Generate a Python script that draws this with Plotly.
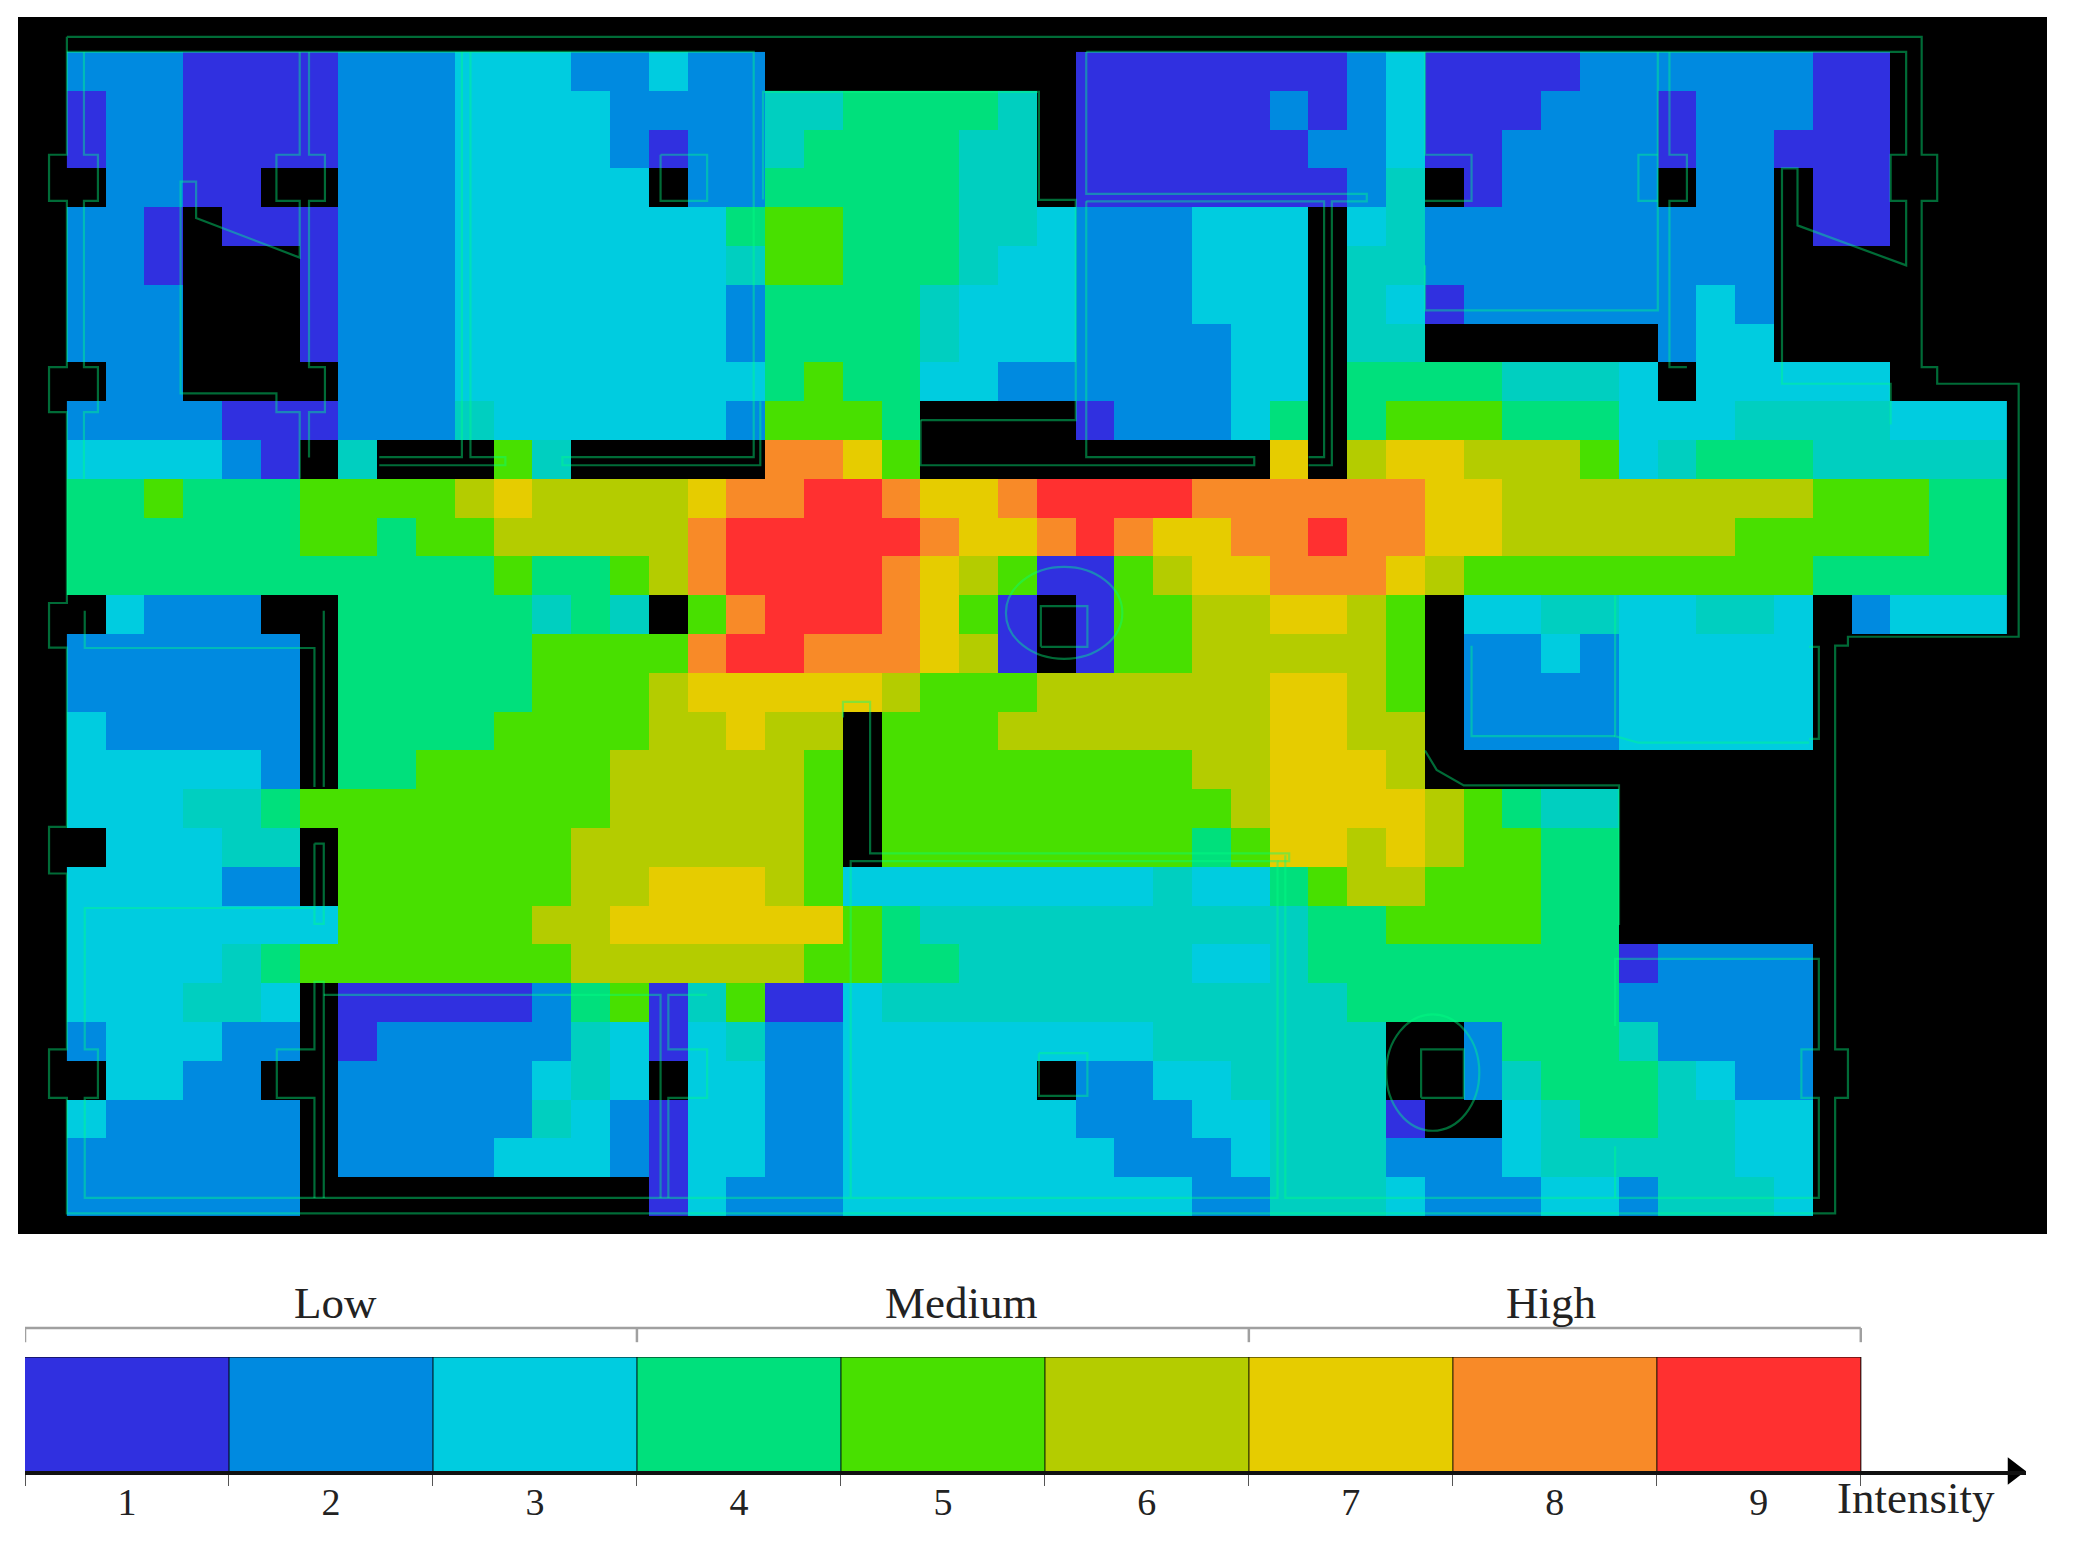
import plotly.graph_objects as go

# intensity per floor cell, one string per row, 0 = wall / no reading, T = the teal step between 3 and 4
FLOOR_ROWS = [
    "222 1111 222 333 22 3 22 00000000 1111111 2 3 1111 222222 11 000",
    "1 22 1111 222 3333 2222 TT 4444 T 0 11111 2 1 2 3 111 222 1 222 11 000",
    "1 22 1111 222 3333 2 1 22 T 4444 TT 0 111111 22 3 11 2222 1 22 111 000",
    "0 22 11 00 222 33333 0 22 44444 TT 0 1111111 2 T 0 1 2222 0 22 0 11 000",
    "22 1 0 111 222 333333 3 4 55 444 TT 3 222 333 0 3 T 222222222 0 11 000",
    "22 1 000 1 222 333333 3 T 55 444 T 33 222 333 0 T T 222222222 000000",
    "222 000 1 222 333333 3 2 4444 T 333 222 333 0 T 3 1 222222 3 2 000000",
    "222 000 1 222 333333 3 2 4444 T 333 2222 33 0 T T 000000 2 33 000000",
    "0 22 0000 222 333333 3 3 4 5 44 33 22 2222 33 0 4 444 TTT 3 0 33333 000",
    "2222 111 222 T 33333 3 2 555 4 0000 1 222 3 4 0 4 555 444 333 TTTT 333",
    "3333 2 1 0 T 000 5 T 00000 88 7 5 000000000 7 0 6 77 666 5 3 T 444 TTTTT",
    "44 5 444 5555 6 7 6666 7 88 99 8 77 8 9999 888888 77 66666666 555 44",
    "444444 55 4 55 66666 8 99999 8 77 8 9 8 77 88 9 88 77 666666 55555 44",
    "44444444444 5 44 5 6 8 9999 8 7 6 5 11 5 6 77 888 7 6 555555555 44444",
    "0 3 222 00 44444 T 4 T 0 5 8 999 8 7 5 1 0 1 55 66 77 6 5 0 33 TT 33 TT 3 0 2 333",
    "222222 0 44444 5555 8 99 888 7 6 1 0 1 55 66666 5 0 22 3 2 33333 00000",
    "222222 0 44444 555 6 77777 6 555 666666 77 6 5 0 2222 33333 00000",
    "3 22222 0 4444 5555 66 7 66 0 555 6666666 77 66 0 2222 33333 00000",
    "33333 2 0 44 55555 66666 5 0 55555555 66 777 6 000000000000000",
    "333 TT 4 55555555 66666 5 0 555555555 6 7777 6 5 4 TT 0000000000",
    "0 333 TT 0 555555 666666 5 0 55555555 4 5 77 6 7 6 55 44 0000000000",
    "3333 22 0 555555 66 777 6 5 33333333 T 33 4 5 6 6 555 44 0000000000",
    "3333333 55555 66 777777 5 4 TTTTTTTTTT 44 5555 44 0000000000",
    "3333 T 4 5555555 666666 55 44 TTTTTT 33 T 44 444444 1 2222 00000",
    "333 TT 3 0 11111 2 4 5 1 T 5 11 3 TTTTTTTTTTTT 4 444444 22222 00000",
    "2 333 22 0 1 22222 T 3 1 3 T 22 33333333 TTTTTT 00 2 444 T 2222 00000",
    "0 33 22 00 22222 3 T 3 0 33 22 33333 0 22 33 TTTT 00 2 T 444 T 3 22 00000",
    "3 22222 0 22222 T 3 2 1 33 22 333333 222 33 TTT 1 00 3 T 44 TT 33 00000",
    "222222 0 2222 333 2 1 33 22 3333333 222 3 TTT 222 3 TTTTT 33 00000",
    "222222 000000000 1 3 222 333333333 22 TTT 3 222 33 2 TTT 3 00000",
]

LEVELS = [1, 2, 3, 3.5, 4, 5, 6, 7, 8, 9]
LEVEL_COLORS = ["#3030e0", "#008ae0", "#00cce0", "#00cfc0", "#00e07c",
                "#48e000", "#b4cc00", "#e6cc00", "#f88a28", "#ff3030"]

LEGEND_VALUES = [1, 2, 3, 4, 5, 6, 7, 8, 9]
LEGEND_GROUPS = ["Low", "Medium", "High"]

# floor plan outline, in grid cells
PLAN_LINES = [
    [(0, -0.39), (47.8, -0.39), (47.8, 2.65), (48.2, 2.65), (48.2, 3.84), (47.8, 3.84), (47.8, 8.12), (48.2, 8.12),
     (48.2, 8.55), (50.3, 8.55), (50.3, 15.07), (45.9, 15.07), (45.9, 15.3), (45.57, 15.3), (45.57, 25.7), (45.9, 25.7),
     (45.9, 26.95), (45.57, 26.95), (45.57, 29.93), (0, 29.93), (0, 26.95), (-0.46, 26.95), (-0.46, 25.7), (0, 25.7),
     (0, 21.17), (-0.46, 21.17), (-0.46, 19.97), (0, 19.97), (0, 15.35), (-0.46, 15.35), (-0.46, 14.2), (0, 14.2),
     (0, 9.28), (-0.46, 9.28), (-0.46, 8.12), (0, 8.12), (0, 3.84), (-0.46, 3.84), (-0.46, 2.65), (0, 2.65), (0, -0.39)],
    [(0, 0), (17.7, 0), (17.7, 10.44), (12.77, 10.44), (12.77, 10.65), (17.87, 10.65), (17.87, 9)],
    [(0.44, 0), (0.44, 2.65), (0.8, 2.65), (0.8, 3.84), (0.44, 3.84), (0.44, 8.12), (0.8, 8.12), (0.8, 9.28), (0.44, 9.28), (0.44, 11)],
    [(6, 0), (6, 2.65), (5.4, 2.65), (5.4, 3.84), (6, 3.84), (6, 5.3), (3.33, 4.28), (3.33, 3.34), (2.93, 3.34),
     (2.93, 8.8), (5.4, 8.8), (5.4, 9.28), (6, 9.28), (6, 11)],
    [(6.24, 0), (6.24, 2.65), (6.65, 2.65), (6.65, 3.84), (6.24, 3.84), (6.24, 8.12), (6.65, 8.12), (6.65, 9.28), (6.24, 9.28), (6.24, 10.45)],
    [(8.05, 10.44), (10.18, 10.44), (10.18, 0)],
    [(10.4, 0), (10.4, 10.44), (11.3, 10.44), (11.3, 10.65), (8.05, 10.65)],
    [(15.3, 2.65), (16.5, 2.65), (16.5, 3.84), (15.3, 3.84), (15.3, 2.65)],
    [(17.94, 3.8), (17.94, 1.03), (25.05, 1.03), (25.05, 3.81), (26, 3.81), (26, 9.49), (22, 9.49)],
    [(26.27, 0), (26.27, 3.66), (33.5, 3.66), (33.5, 3.85), (32.6, 3.85), (32.6, 10.65), (32, 10.65)],
    [(26.27, 3.85), (32.4, 3.85), (32.4, 10.44), (32, 10.44)],
    [(26.27, 3.85), (26.27, 10.44), (30.6, 10.44), (30.6, 10.65), (22, 10.65), (22, 9.49)],
    [(26.27, 0), (47.4, 0), (47.4, 2.65), (47, 2.65), (47, 3.84), (47.4, 3.84), (47.4, 5.5), (44.6, 4.47), (44.6, 3),
     (44.2, 3), (44.2, 8.55), (47, 8.55), (47, 9.6)],
    [(35, 0), (35, 2.65), (36.2, 2.65), (36.2, 3.84), (35, 3.84)],
    [(35, 5.5), (35, 6.66), (41, 6.66), (41, 0)],
    [(41, 2.65), (40.5, 2.65), (40.5, 3.84), (41, 3.84)],
    [(41.3, 0), (41.3, 2.65), (41.75, 2.65), (41.75, 3.84), (41.3, 3.84), (41.3, 8.12), (41.75, 8.12)],
    [(0.46, 14.4), (0.46, 15.36), (6.38, 15.36), (6.38, 18.94)],
    [(6.62, 14.4), (6.62, 18.94)],
    [(6.38, 20.4), (6.38, 22.47), (6.62, 22.47), (6.62, 20.4), (6.38, 20.4)],
    [(6.38, 22.06), (0.46, 22.06), (0.46, 25.7), (0.8, 25.7), (0.8, 26.95), (0.46, 26.95), (0.46, 29.53),
     (31.2, 29.53), (31.2, 20.85), (20.2, 20.85), (20.2, 29.53)],
    [(6.38, 29.53), (6.38, 26.95), (5.41, 26.95), (5.41, 25.7), (6.38, 25.7), (6.38, 23.96), (6.62, 23.96), (6.62, 29.53)],
    [(6.62, 24.3), (15.3, 24.3), (15.3, 29.53)],
    [(15.5, 29.53), (15.5, 26.95), (16.5, 26.95), (16.5, 25.7), (15.5, 25.7), (15.5, 24.3), (16.5, 24.3)],
    [(25.05, 25.8), (26.3, 25.8), (26.3, 26.9), (25.05, 26.9), (25.05, 25.8)],
    [(25.1, 15.33), (25.1, 14.28), (26.3, 14.28), (26.3, 15.33), (25.1, 15.33)],
    [(34.9, 26.95), (34.9, 25.7), (36, 25.7), (36, 26.95), (34.9, 26.95)],
    [(36.2, 15.3), (36.2, 17.63), (39.9, 17.63)],
    [(39.9, 14), (39.9, 17.63), (40.5, 17.8), (44.9, 17.8)],
    [(44.9, 15.33), (45.15, 15.33), (45.15, 17.7), (44.9, 17.7)],
    [(31.4, 20.7), (31.4, 29.53), (45.15, 29.53), (45.15, 26.95), (44.7, 26.95), (44.7, 25.7), (45.15, 25.7), (45.15, 23.37), (39.9, 23.37), (39.9, 25.1)],
    [(39.9, 28.2), (39.9, 29.53)],
    [(20, 17.15), (20, 16.75), (20.7, 16.75), (20.7, 20.65), (31.5, 20.65), (31.5, 20.85), (31.2, 20.85)],
    [(35, 18), (35.3, 18.5), (36, 18.9), (40, 18.9), (40, 22.5)],
]
# stair wells (x0, x1, y0, y1)
PLAN_CIRCLES = [(24.2, 27.2, 13.27, 15.64), (34.0, 36.4, 24.8, 27.8)]

PLAN_COLOR = "rgba(0,255,130,0.42)"
SERIF = "Liberation Serif"
W, H = 2075, 1546
PAGE_MARGIN = 8  # the browser's body margin pushes the plot right and down


def xfrac(p):
    return (p - PAGE_MARGIN) / W


def yfrac(p):
    return 1 - (p - PAGE_MARGIN) / H


def step_scale():
    # hard colour steps, value range 1 to 9
    bounds = [1] + [(a + b) / 2 for a, b in zip(LEVELS, LEVELS[1:])] + [9]
    scale = []
    for i, c in enumerate(LEVEL_COLORS):
        scale.append([(bounds[i] - 1) / 8, c])
        scale.append([(bounds[i + 1] - 1) / 8, c])
    return scale


def cell_value(c):
    if c == "0":
        return None
    if c == "T":
        return 3.5
    return int(c)


z = []
for row in FLOOR_ROWS:
    cells = row.replace(" ", "")
    assert len(cells) == 50
    z.append([cell_value(c) for c in cells])

fig = go.Figure()

# black floor background sits under the heatmap, walls are just gaps in z
fig.add_shape(type="rect", xref="x domain", yref="y domain", x0=0, x1=1, y0=0, y1=1,
              fillcolor="black", line_width=0, layer="below")

fig.add_trace(go.Heatmap(z=z, x0=0.5, dx=1, y0=0.5, dy=1, colorscale=step_scale(), zmin=1, zmax=9,
                         showscale=False, hoverongaps=False))
px, py = [], []
for line in PLAN_LINES:
    px += [p[0] for p in line] + [None]
    py += [p[1] for p in line] + [None]
fig.add_trace(go.Scatter(x=px, y=py, mode="lines", line=dict(color=PLAN_COLOR, width=2.2), hoverinfo="skip"))
for x0, x1, y0, y1 in PLAN_CIRCLES:
    fig.add_shape(type="circle", x0=x0, x1=x1, y0=y0, y1=y1, xref="x", yref="y",
                  line=dict(color=PLAN_COLOR, width=2.2))

# intensity legend: bar on x2/y3, bracket and words on x2/y2
fig.add_trace(go.Heatmap(z=[LEGEND_VALUES], x0=0.5, dx=1, y0=0.5, dy=1, colorscale=step_scale(), zmin=1, zmax=9,
                         showscale=False, xaxis="x2", yaxis="y3"))
sx, sy = [0, 9, None], [1, 1, None]
for i in range(1, 10):
    sx += [i, i, None]
    sy += [0, 1, None]
fig.add_trace(go.Scatter(x=sx, y=sy, mode="lines", line=dict(color="rgba(0,0,0,0.65)", width=1.5),
                         xaxis="x2", yaxis="y3", hoverinfo="skip", cliponaxis=False))
fig.add_trace(go.Scatter(x=[9.75], y=[0], mode="markers", xaxis="x2", yaxis="y3", cliponaxis=False, hoverinfo="skip",
                         marker=dict(symbol="triangle-right", size=24, color="black")))
bx, by = [0, 9, None], [1.254, 1.254, None]
for i in range(0, 10, 3):
    bx += [i, i, None]
    by += [1.254, 1.13, None]
fig.add_trace(go.Scatter(x=bx, y=by, mode="lines", line=dict(color="#a0a0a0", width=2.5),
                         xaxis="x2", yaxis="y2", hoverinfo="skip"))
for name, pos in zip(LEGEND_GROUPS, [1.52, 4.59, 7.48]):
    fig.add_annotation(x=pos, y=1.24, xref="x2", yref="y2", text=name, showarrow=False, yanchor="bottom",
                       font=dict(family=SERIF, size=45, color="#222222"))
fig.add_annotation(x=9.27, y=-0.24, xref="x2", yref="y2", text="Intensity", showarrow=False,
                   font=dict(family=SERIF, size=45, color="#222222"))

fig.update_layout(
    width=W, height=H,
    margin=dict(l=0, r=0, t=0, b=0),
    paper_bgcolor="white", plot_bgcolor="white",
    showlegend=False,
    xaxis=dict(domain=[xfrac(18), xfrac(2047)], range=[-1.26, 51.03], visible=False),
    yaxis=dict(domain=[yfrac(1234), yfrac(17)], range=[30.46, -0.90], visible=False),
    xaxis2=dict(domain=[xfrac(25), xfrac(2026)], range=[0, 9.81], anchor="y3",
                tickmode="array", tickvals=[v - 0.5 for v in LEGEND_VALUES], ticktext=[str(v) for v in LEGEND_VALUES],
                ticks="", showgrid=False, zeroline=False, ticklabelstandoff=-6,
                showline=True, linecolor="#111111", linewidth=4,
                tickfont=dict(family=SERIF, size=38, color="#222222"),
                minor=dict(tickmode="linear", tick0=0, dtick=1, ticks="outside", ticklen=11, tickcolor="#555555",
                           showgrid=False)),
    # y2 runs from the words above the bar down to the tick labels, same scale as y3
    yaxis2=dict(domain=[yfrac(1530), yfrac(1290)], range=[-0.518, 1.588], anchor="x2", visible=False),
    yaxis3=dict(domain=[yfrac(1471), yfrac(1357)], range=[0, 1], anchor="x2", visible=False),
)

fig.write_html("out.html")
